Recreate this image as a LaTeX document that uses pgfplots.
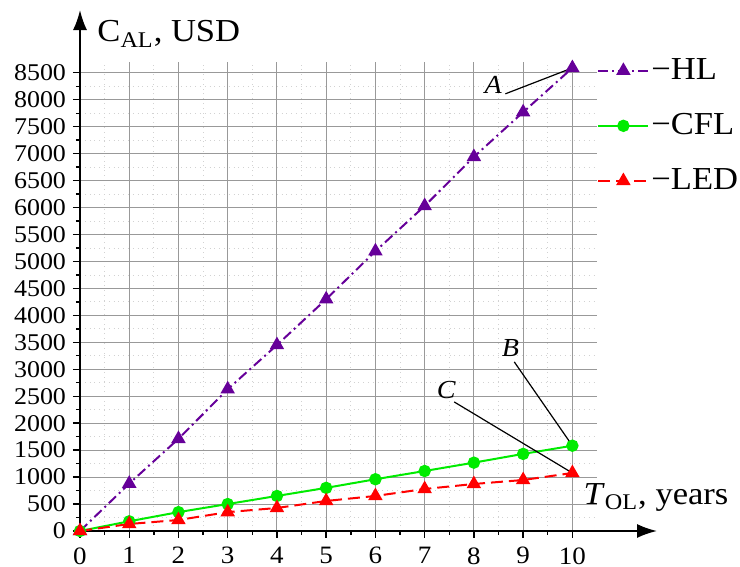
\documentclass[border=0pt]{standalone}
\usepackage{pgfplots}
\pgfplotsset{compat=1.18}
\usepackage{fontspec}
\setmainfont{Liberation Serif}[FakeStretch=1.08]
\usetikzlibrary{arrows.meta}
\definecolor{hlpurple}{RGB}{102,0,153}
\definecolor{cflgreen}{RGB}{0,235,0}
\definecolor{ledred}{RGB}{255,0,0}

\begin{document}
\begin{tikzpicture}
\useasboundingbox (-40pt,-18pt) rectangle (330pt,265.5pt);
\begin{axis}[
  at={(0,0)}, anchor=origin,
  scale only axis, width=258.5pt, height=234.5pt,
  xmin=0, xmax=10.5, ymin=0, ymax=8700,
  axis lines=left,
  x axis line style={line width=0.9pt, -{Latex[length=10pt,width=7pt]}, shorten >=-30pt},
  y axis line style={line width=0.9pt, -{Latex[length=10pt,width=7pt]}, shorten >=-26pt},
  xtick={0,1,...,10}, ytick={0,500,...,8500},
  minor x tick num=1, minor y tick num=1,
  tick align=outside,
  major tick length=3.5pt, minor tick length=2pt,
  tick style={black, line width=0.7pt},
  grid=both,
  major grid style={gray!80, line width=0.5pt},
  minor grid style={gray!35, dotted, line width=0.4pt},
  xticklabels={0,1,2,3,4,5,6,7,8,9,10},
  yticklabels={0,500,1000,1500,2000,2500,3000,3500,4000,4500,5000,5500,6000,6500,7000,7500,8000,8500},
  xticklabel style={font=\fontsize{12.5}{14}\selectfont, inner sep=0pt, anchor=north, yshift=-4.5pt},
  yticklabel style={font=\fontsize{12}{14}\selectfont},
  ylabel={C\textsubscript{AL}, USD},
  ylabel style={rotate=-90, anchor=west, inner sep=0pt, font=\fontsize{16}{18}\selectfont,
                at={(axis description cs:0.033,1.06)}},
  xlabel={\textit{T}\textsubscript{OL}, years},
  xlabel style={anchor=east, inner sep=0pt, font=\fontsize{16}{18}\selectfont,
                at={(axis description cs:1.255,0.072)}},
  clip=false,
  legend style={at={(axis description cs:1,1.012)}, anchor=north west,
                draw=none, fill=none, inner sep=0pt, row sep=13.5pt,
                font=\fontsize{16}{18}\selectfont,
                nodes={inner sep=1pt}},
  legend cell align=left,
  legend image code/.code={\draw[mark repeat=2,mark phase=2]
      plot coordinates {(0pt,0pt)(12.5pt,0pt)(25pt,0pt)};},
]
\addplot[hlpurple, line width=1pt, dash pattern=on 5pt off 2pt on 1pt off 2pt,
  mark=triangle*, mark size=3.2pt, mark options={solid}]
  coordinates {(0,0) (1,880) (2,1710) (3,2630) (4,3450) (5,4300) (6,5190)
               (7,6030) (8,6940) (9,7770) (10,8590)};
\addplot[cflgreen, line width=1pt, mark=*, mark size=2.6pt]
  coordinates {(0,0) (1,180) (2,350) (3,500) (4,650) (5,800) (6,960)
               (7,1113) (8,1268) (9,1430) (10,1582)};
\addplot[ledred, line width=1pt, dash pattern=on 6pt off 3pt,
  mark=triangle*, mark size=3.2pt, mark options={solid}]
  coordinates {(0,0) (1,130) (2,204) (3,350) (4,427) (5,557) (6,650)
               (7,779) (8,872) (9,946) (10,1076)};
\legend{−HL, −CFL, −LED}

\node[font=\fontsize{13}{15}\selectfont\itshape] at (axis cs:8.39,8278) {A};
\draw[line width=0.6pt] (axis cs:8.64,8110) -- (axis cs:10,8590);
\node[font=\fontsize{13}{15}\selectfont\itshape] at (axis cs:8.74,3396) {B};
\draw[line width=0.6pt] (axis cs:8.82,3137) -- (axis cs:10,1582);
\node[font=\fontsize{13}{15}\selectfont\itshape] at (axis cs:7.44,2617) {C};
\draw[line width=0.6pt] (axis cs:7.60,2394) -- (axis cs:10,1076);
\end{axis}
\end{tikzpicture}
\end{document}
